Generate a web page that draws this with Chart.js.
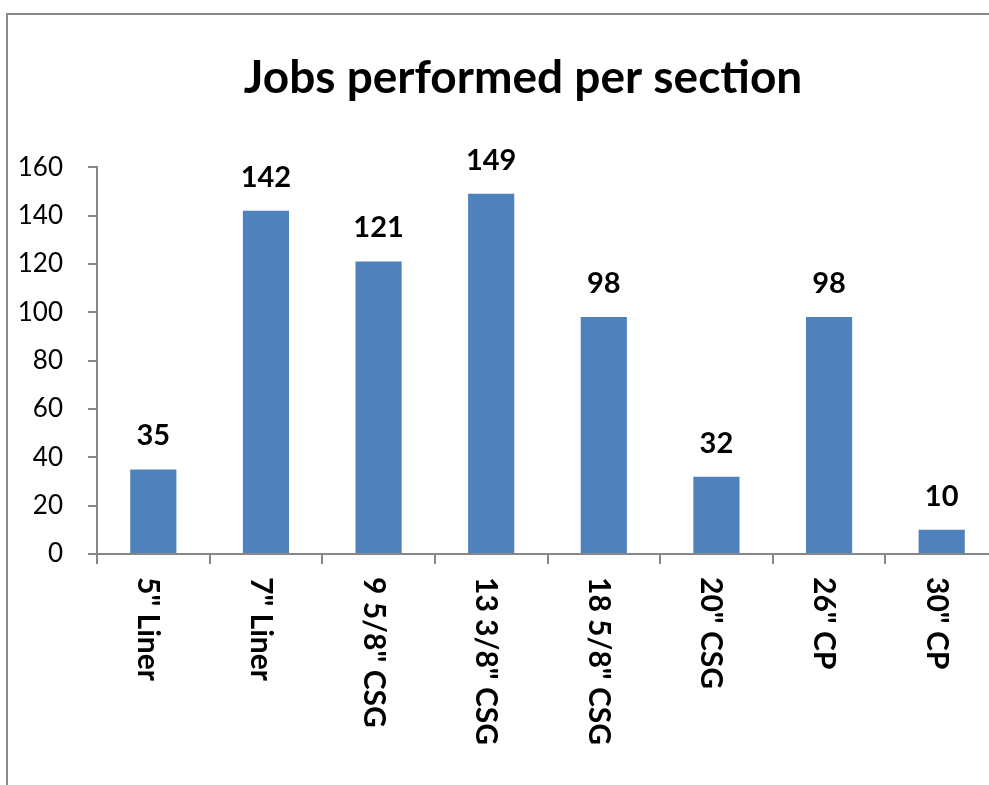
<!DOCTYPE html>
<html><head><meta charset="utf-8">
<script src="https://cdn.jsdelivr.net/npm/chart.js@4/dist/chart.umd.min.js"></script>
<style>
html,body{margin:0;padding:0;background:#fff;overflow:hidden;width:989px;height:785px;}
#frame{position:absolute;left:6px;top:13px;width:1040px;height:800px;border-left:2px solid #8c8c8c;border-top:2px solid #8c8c8c;}
#wrap{position:absolute;left:0;top:0;width:1030px;height:779px;}
</style></head><body>
<div id="frame"><div id="wrap"><canvas id="c" width="1030" height="779"></canvas></div></div>
<script>
const chartTitle = 'Jobs performed per section';
const categories = ['5" Liner', '7" Liner', '9 5/8" CSG', '13 3/8" CSG', '18 5/8" CSG', '20" CSG', '26" CP', '30" CP'];
const jobs = [35, 142, 121, 149, 98, 32, 98, 10];
const yTicks = [0, 20, 40, 60, 80, 100, 120, 140, 160];

const AXIS = '#868686';
Chart.defaults.font.family = 'Lato';

const labelPlugin = {
  id: 'customLabels',
  afterDatasetsDraw(chart) {
    const ctx = chart.ctx;
    const meta = chart.getDatasetMeta(0);
    const xs = chart.scales.x;
    ctx.save();
    ctx.fillStyle = '#000';
    ctx.font = 'bold 29px Lato';
    ctx.textAlign = 'center';
    ctx.textBaseline = 'alphabetic';
    meta.data.forEach((bar, i) => {
      ctx.fillText(String(jobs[i]), bar.x, bar.y - 24);
    });
    ctx.font = 'bold 30px Lato';
    ctx.textAlign = 'left';
    categories.forEach((c, i) => {
      const x = xs.getPixelForTick(i);
      ctx.save();
      ctx.translate(x, xs.top + 23);
      ctx.rotate(Math.PI / 2);
      ctx.fillText(c, 0, 15);
      ctx.restore();
    });
    ctx.restore();
  }
};

new Chart(document.getElementById('c'), {
  type: 'bar',
  data: {
    labels: categories,
    datasets: [{
      data: jobs,
      backgroundColor: '#4F81BD',
      borderWidth: 0,
      barPercentage: 0.41,
      categoryPercentage: 1.0
    }]
  },
  options: {
    responsive: false,
    devicePixelRatio: 1,
    animation: false,
    layout: { padding: 0 },
    plugins: {
      legend: { display: false },
      tooltip: { enabled: false },
      title: {
        display: true,
        text: chartTitle,
        color: '#000',
        font: { size: 46, weight: 'bold', family: 'Lato' },
        padding: { top: 36, bottom: 61 }
      }
    },
    scales: {
      x: {
        type: 'category',
        offset: true,
        grid: { offset: true, drawOnChartArea: false, drawTicks: true, tickLength: 10, color: AXIS, lineWidth: 2 },
        border: { color: AXIS, width: 2 },
        ticks: { display: false },
        afterFit(s) { s.height = 240; }
      },
      y: {
        min: yTicks[0],
        max: yTicks[yTicks.length - 1],
        afterBuildTicks(s) { s.ticks = yTicks.map(v => ({ value: v })); },
        grid: { drawOnChartArea: false, drawTicks: true, tickLength: 9, color: AXIS, lineWidth: 2 },
        border: { color: AXIS, width: 2 },
        ticks: { color: '#000', font: { size: 26 }, padding: 25 },
        afterFit(s) { s.width = 89; }
      },
      yRight: {
        position: 'right',
        display: true,
        min: 0,
        max: 1,
        grid: { display: false, drawTicks: false },
        border: { display: false },
        ticks: { display: false },
        afterFit(s) { s.width = 40; }
      }
    }
  },
  plugins: [labelPlugin]
});
</script>
</body></html>
